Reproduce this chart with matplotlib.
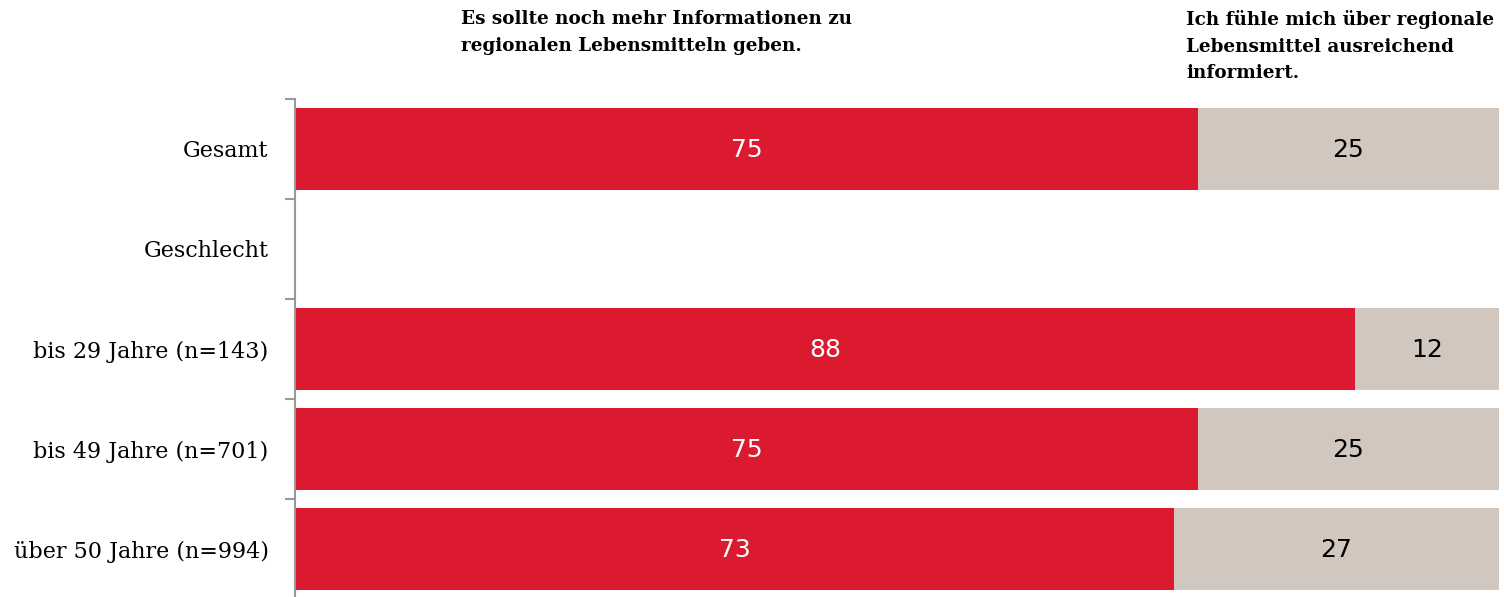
import numpy as np
import matplotlib
matplotlib.use("Agg")
import matplotlib.pyplot as plt
from matplotlib.ticker import FixedLocator

categories = ["Gesamt", "Geschlecht", "bis 29 Jahre (n=143)",
              "bis 49 Jahre (n=701)", "über 50 Jahre (n=994)"]
mehr_info = [75, np.nan, 88, 75, 73]
ausreichend = [25, np.nan, 12, 25, 27]
series_titles = ["Es sollte noch mehr Informationen zu\nregionalen Lebensmitteln geben.",
                 "Ich fühle mich über regionale\nLebensmittel ausreichend\ninformiert."]

RED = "#DC1A2F"
BEIGE = "#D1C7BE"
SERIF = ["DejaVu Serif"]

W, H = 1504, 597
fig = plt.figure(figsize=(W / 100, H / 100), dpi=100)
ax = fig.add_axes([295 / W, 0, 1204 / W, 1 - 99 / H])

y = np.arange(len(categories))
ax.barh(y, mehr_info, height=0.82, color=RED)
ax.barh(y, ausreichend, left=mehr_info, height=0.82, color=BEIGE)

for i in range(len(categories)):
    a, b = mehr_info[i], ausreichend[i]
    if np.isnan(a):
        continue
    ax.text(a / 2, i + 0.01, f"{a:g}", ha="center", va="center", color="white",
            fontsize=18, family="DejaVu Sans")
    ax.text(a + b / 2, i + 0.01, f"{b:g}", ha="center", va="center", color="black",
            fontsize=18, family="DejaVu Sans")

ax.set_xlim(0, 100)
ax.set_ylim(4.48, -0.5)
ax.set_yticks(y)
ax.set_yticklabels(categories, family=SERIF, fontsize=16)
ax.tick_params(axis="y", which="major", length=0, pad=19)
ax.yaxis.set_minor_locator(FixedLocator(np.arange(-0.5, 4.0, 1.0)))
ax.tick_params(axis="y", which="minor", length=7, width=1.5, color="#999999", direction="out")
ax.set_xticks([])
for s in ["top", "right", "bottom"]:
    ax.spines[s].set_visible(False)
ax.spines["left"].set_color("#999999")
ax.spines["left"].set_linewidth(1.5)

fig.text(461 / W, 1 - 10 / H, series_titles[0], ha="left", va="top",
         family=SERIF, fontsize=13.2, fontweight="bold", linespacing=1.62)
fig.text(1186 / W, 1 - 10 / H, series_titles[1], ha="left", va="top",
         family=SERIF, fontsize=13.2, fontweight="bold", linespacing=1.62)

fig.savefig("out.png", dpi=100)
